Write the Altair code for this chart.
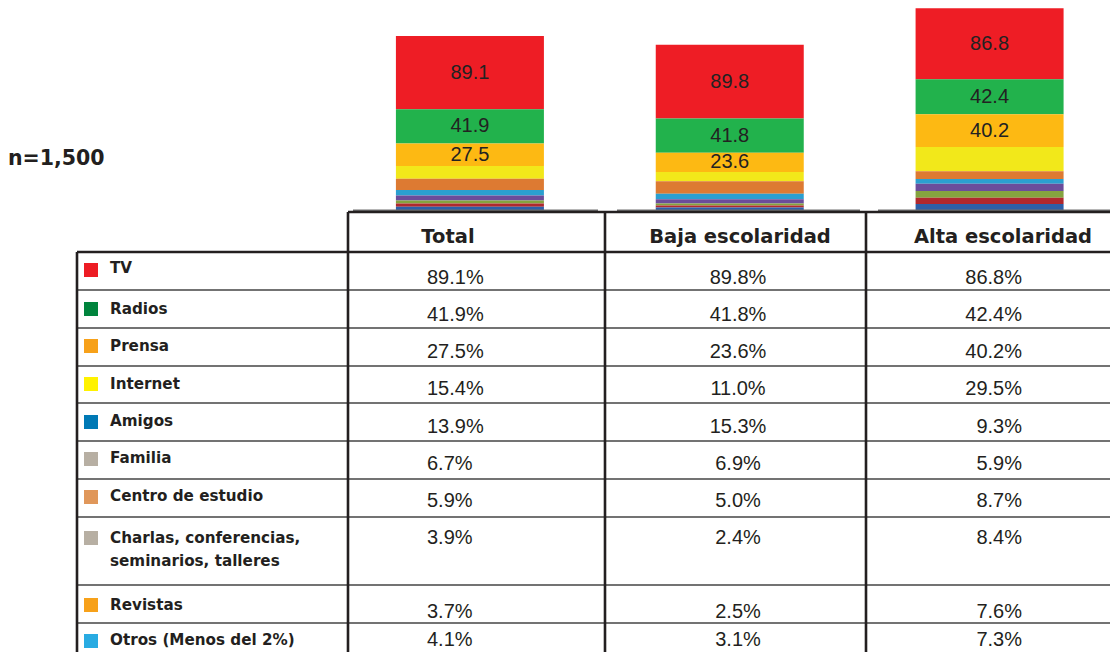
import altair as alt
import pandas as pd

# ---------------- data ----------------
categorias = ["TV", "Radios", "Prensa", "Internet", "Amigos", "Familia",
              "Centro de estudio", "Charlas, conferencias,\nseminarios, talleres",
              "Revistas", "Otros (Menos del 2%)"]
grupos = ["Total", "Baja escolaridad", "Alta escolaridad"]
total = [89.1, 41.9, 27.5, 15.4, 13.9, 6.7, 5.9, 3.9, 3.7, 4.1]
baja = [89.8, 41.8, 23.6, 11.0, 15.3, 6.9, 5.0, 2.4, 2.5, 3.1]
alta = [86.8, 42.4, 40.2, 29.5, 9.3, 5.9, 8.7, 8.4, 7.6, 7.3]
muestra = "n=1,500"

# ---------------- styles / layout (page pixels) ----------------
OFF = 8
bar_colors = ["#EE1D25", "#22B24C", "#FDB913", "#F2E81A", "#DD7A32", "#2B9FD0",
              "#6B4C9B", "#85A33F", "#B0282E", "#2D5FA8"]
legend_colors = ["#ED1C24", "#00843D", "#F7A11A", "#FFF200", "#0079B5", "#B7AFA3",
                 "#E0975A", "#B7AFA3", "#F7A11A", "#29ABE2"]
DARK = "#231F20"

band_range = [340 - OFF, 1119.5 - OFF]
bar_w = 148
bar_base = 210 - OFF
px_per_unit = 0.82
y_dom_max = 250

header_x = [448, 740, 1003]
header_y = 243
label_x = 110
square_x = 91
label_y = [273, 314, 351, 389, 426, 463, 501, 543, 610, 645]
square_y = [270, 309, 346, 384, 422, 459, 497, 538, 605, 641]
value_y = [284, 321, 358, 395, 433, 470, 507, 544, 618, 646]
value_x = [427, 738, 1022]
value_align = ["left", "center", "right"]
row_lines = [290, 328, 366, 403, 441, 479, 517, 585, 623]
thick_lines = [  # x1, y1, x2, y2
    (348, 212, 348, 670), (605, 212, 605, 670), (866, 212, 866, 670),
    (77, 252, 77, 670), (348, 212, 1130, 212), (77, 252, 1130, 252),
]
base_lines = [(353, 598), (617, 860), (878, 1130)]
base_y = 210.5
table_left, table_right = 77, 1130

# ---------------- tables ----------------
rows = []
for g, vals in zip(grupos, [total, baja, alta]):
    for i, (c, v) in enumerate(zip(categorias, vals)):
        rows.append({"grupo": g, "categoria": c, "idx": i, "valor": v})
df = pd.DataFrame(rows)

ident = dict(scale=None, axis=None)

yscale = alt.Scale(domain=[0, y_dom_max], range=[bar_base, bar_base - y_dom_max * px_per_unit], nice=False, zero=True)
xband = alt.Scale(domain=grupos, range=band_range, paddingInner=0, paddingOuter=0)

stacked = alt.Chart(df).transform_stack(
    stack="valor", groupby=["grupo"], as_=["v0", "v1"],
    sort=[alt.SortField("idx", order="descending")]
)

bars = stacked.mark_bar(width=bar_w).encode(
    x=alt.X("grupo:N", scale=xband, axis=None),
    y=alt.Y("v0:Q", scale=yscale, axis=None),
    y2="v1:Q",
    color=alt.Color("categoria:N", scale=alt.Scale(domain=categorias, range=bar_colors), legend=None),
)

bar_labels = stacked.transform_filter("datum.idx < 3").transform_calculate(
    mid="(datum.v0 + datum.v1) / 2", txt="format(datum.valor, '.1f')"
).mark_text(font="Liberation Sans", fontSize=20, color="#222222", baseline="middle").encode(
    x=alt.X("grupo:N", scale=xband, axis=None),
    y=alt.Y("mid:Q", scale=yscale, axis=None),
    text="txt:N",
)

# baseline rules under bars
base_df = pd.DataFrame([{"x": a - OFF, "x2": b - OFF, "y": base_y - OFF} for a, b in base_lines])
base = alt.Chart(base_df).mark_rule(color="#6E6E6E", strokeWidth=2).encode(
    x=alt.X("x:Q", **ident), x2="x2:Q", y=alt.Y("y:Q", **ident))

# table lines
thin_df = pd.DataFrame([{"x": table_left - OFF, "x2": table_right - OFF, "y": y - OFF} for y in row_lines])
thin = alt.Chart(thin_df).mark_rule(color="#444444", strokeWidth=1.6).encode(
    x=alt.X("x:Q", **ident), x2="x2:Q", y=alt.Y("y:Q", **ident))
thick_df = pd.DataFrame([{"x": a - OFF, "y": b - OFF, "x2": c - OFF, "y2": d - OFF} for a, b, c, d in thick_lines])
thick = alt.Chart(thick_df).mark_rule(color=DARK, strokeWidth=2.6).encode(
    x=alt.X("x:Q", **ident), y=alt.Y("y:Q", **ident), x2="x2:Q", y2="y2:Q")

# headers
head_df = pd.DataFrame({"t": grupos, "x": [v - OFF for v in header_x], "y": [header_y - OFF] * 3})
heads = alt.Chart(head_df).mark_text(font="DejaVu Sans", fontWeight="bold", fontSize=19.5,
                                     color=DARK, align="center", baseline="alphabetic").encode(
    x=alt.X("x:Q", **ident), y=alt.Y("y:Q", **ident), text="t:N")

# row labels and legend squares
lab_df = pd.DataFrame({"categoria": categorias, "x": [label_x - OFF] * len(categorias),
                       "y": [v - OFF for v in label_y],
                       "sx": [square_x - OFF] * len(categorias), "sy": [v - OFF for v in square_y]})
labels = alt.Chart(lab_df).mark_text(font="DejaVu Sans", fontWeight="bold", fontSize=15.2, color=DARK,
                                     align="left", baseline="alphabetic", lineBreak="\n", lineHeight=23).encode(
    x=alt.X("x:Q", **ident), y=alt.Y("y:Q", **ident), text="categoria:N")
squares = alt.Chart(lab_df).mark_square(size=196, opacity=1).encode(
    x=alt.X("sx:Q", **ident), y=alt.Y("sy:Q", **ident),
    color=alt.Color("categoria:N", scale=alt.Scale(domain=categorias, range=legend_colors), legend=None))

# values
value_layers = []
for g, vx, al in zip(grupos, value_x, value_align):
    sub = df[df.grupo == g].copy()
    sub["x"] = vx - OFF
    sub["y"] = [v - OFF for v in value_y]
    value_layers.append(
        alt.Chart(sub).transform_calculate(txt="format(datum.valor, '.1f') + '%'").mark_text(
            font="Liberation Sans", fontSize=20, color=DARK, align=al, baseline="alphabetic").encode(
            x=alt.X("x:Q", **ident), y=alt.Y("y:Q", **ident), text="txt:N"))

# n label
n_df = pd.DataFrame({"t": [muestra], "x": [8 - OFF], "y": [165 - OFF]})
nlab = alt.Chart(n_df).mark_text(font="DejaVu Sans", fontWeight="bold", fontSize=20.5, color=DARK,
                                 align="left", baseline="alphabetic").encode(
    x=alt.X("x:Q", **ident), y=alt.Y("y:Q", **ident), text="t:N")

chart = alt.layer(bars, bar_labels, base, thin, thick, heads, squares, labels, *value_layers, nlab).resolve_scale(
    x="independent", y="independent", color="independent"
).properties(width=1102, height=644, autosize="none", padding=0).configure_view(stroke=None)

chart.save("out.html", embed_options={"renderer": "svg", "actions": False})
